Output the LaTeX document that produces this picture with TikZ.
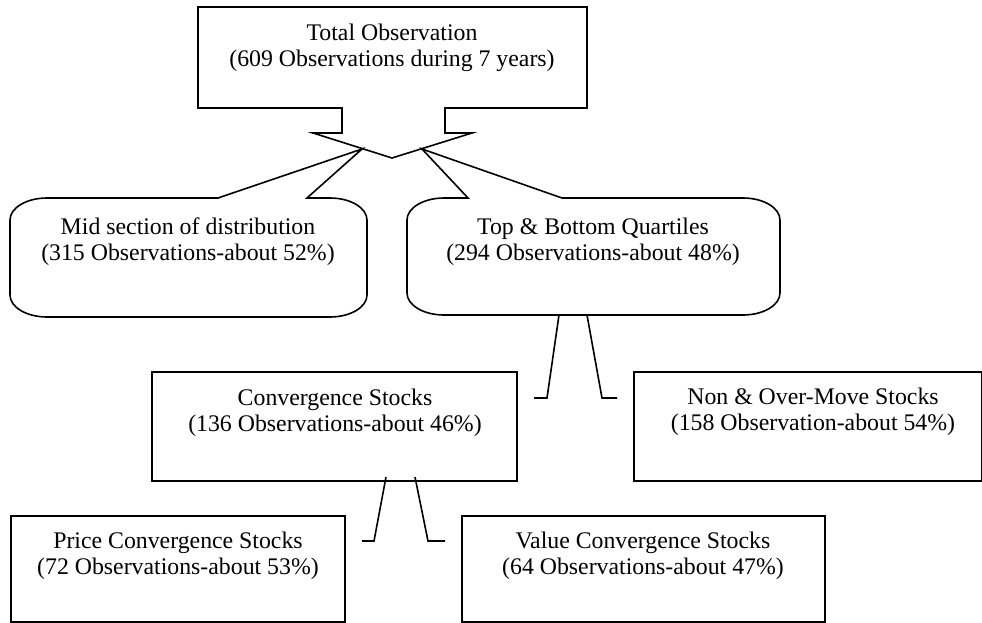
\documentclass[tikz,border=0pt]{standalone}
\usepackage{fontspec}
\setmainfont{Liberation Serif}
\begin{document}
\begin{tikzpicture}[x=1pt,y=-1pt,line width=1.6pt,line join=miter,
  lbl/.style={align=center,font=\fontsize{23.8}{26}\selectfont,inner sep=0pt},
  box/.style={draw,line width=1.6pt,inner sep=0pt,outer sep=0pt},
  conn/.style={draw,line width=1.6pt}]
\useasboundingbox (0,0) rectangle (982,623);
% top callout box with notch
\draw (198,7) -- (587,7) -- (587,108) -- (445,108) -- (445,133) -- (472,133)
  -- (392,158) coordinate (tip) -- (313,133) -- (342,133) -- (342,108) -- (198,108) -- cycle;
\coordinate (tipL) at (362,149);
\coordinate (tipR) at (422,149);
\node[lbl] (toptext) at (392,48) {Total Observation\\(609 Observations during 7 years)};
% left bubble
\draw (218,198) -- (tipL) -- (307,198) -- (330,198)
  arc[start angle=-90,end angle=0,x radius=37,y radius=22] -- (367,295)
  arc[start angle=0,end angle=90,x radius=37,y radius=22] -- (47,317)
  arc[start angle=90,end angle=180,x radius=37,y radius=22] -- (10,220)
  arc[start angle=180,end angle=270,x radius=37,y radius=22] -- cycle;
\node[lbl] (midtext) at (188,242) {Mid section of distribution\\(315 Observations-about 52\%)};
% right bubble
\draw (468,198) -- (tipR) -- (562,198) -- (743,198)
  arc[start angle=-90,end angle=0,x radius=37,y radius=22] -- (780,293)
  arc[start angle=0,end angle=90,x radius=37,y radius=22] -- (444,315)
  arc[start angle=90,end angle=180,x radius=37,y radius=22] -- (407,220)
  arc[start angle=180,end angle=270,x radius=37,y radius=22] -- cycle;
\node[lbl] (tbtext) at (593,242) {Top \& Bottom Quartiles\\(294 Observations-about 48\%)};
\coordinate (tbL) at (559,315);
\coordinate (tbR) at (587,315);
% second level boxes
\node[box,minimum width=365pt,minimum height=109pt] (conv) at (334.5,426.5) {};
\node[lbl] (convtext) at (335,413) {Convergence Stocks\\(136 Observations-about 46\%)};
\node[box,minimum width=347.5pt,minimum height=109pt] (non) at (807.75,426.5) {};
\node[lbl] (nontext) at (813,412) {Non \& Over-Move Stocks\\(158 Observation-about 54\%)};
\coordinate (c1a) at (547,398); \coordinate (c1b) at (534,398);
\coordinate (c2a) at (602,398); \coordinate (c2b) at (617,398);
\draw[conn] (tbL) -- (c1a) -- (c1b);
\draw[conn] (tbR) -- (c2a) -- (c2b);
% third level boxes
\node[box,minimum width=334pt,minimum height=106pt] (price) at (178,569) {};
\node[lbl] (pricetext) at (178,556) {Price Convergence Stocks\\(72 Observations-about 53\%)};
\node[box,minimum width=363pt,minimum height=106pt] (value) at (643.5,569) {};
\node[lbl] (valuetext) at (643,556) {Value Convergence Stocks\\(64 Observations-about 47\%)};
\coordinate (cvL) at (386,477); \coordinate (cvR) at (415,477);
\coordinate (d1a) at (374,541); \coordinate (d1b) at (362,541);
\coordinate (d2a) at (428,541); \coordinate (d2b) at (445,541);
\draw[conn] (cvL) -- (d1a) -- (d1b);
\draw[conn] (cvR) -- (d2a) -- (d2b);
\end{tikzpicture}
\end{document}
